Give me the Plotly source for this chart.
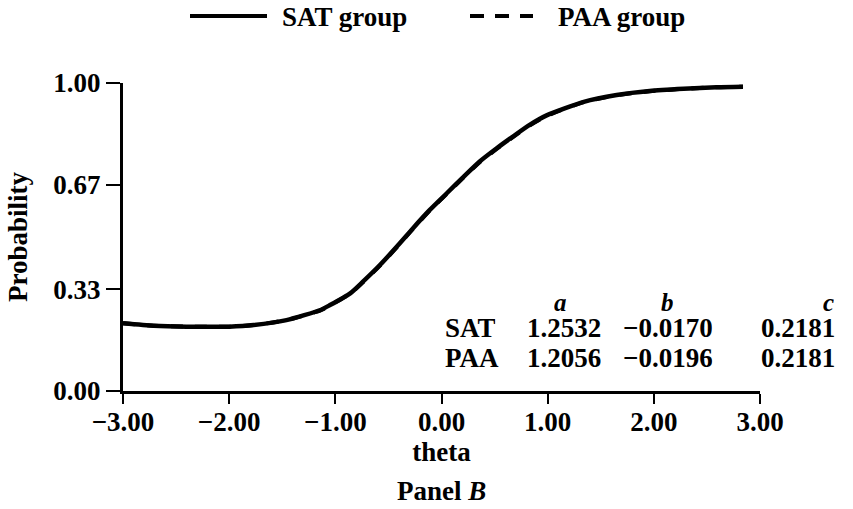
import plotly.graph_objects as go

# Item characteristic curves (probability of a correct response vs. theta)
theta_sat = [-3.00, -2.71, -2.40, -2.00, -1.77, -1.46, -1.14, -1.05, -0.86, -0.74,
             -0.58, -0.42, -0.27, -0.11, 0.05, 0.21, 0.36, 0.52, 0.68, 0.83,
             0.99, 1.34, 1.65, 1.96, 2.28, 2.59, 2.84]
prob_sat = [0.220, 0.212, 0.209, 0.209, 0.214, 0.230, 0.263, 0.279, 0.317, 0.355,
            0.409, 0.469, 0.528, 0.588, 0.642, 0.696, 0.745, 0.788, 0.828, 0.864,
            0.895, 0.939, 0.961, 0.974, 0.981, 0.986, 0.988]
theta_paa = [-3.00, -2.71, -2.40, -2.00, -1.77, -1.46, -1.14, -1.05, -0.86, -0.74,
             -0.58, -0.42, -0.27, -0.11, 0.05, 0.21, 0.36, 0.52, 0.68, 0.83,
             0.99, 1.34, 1.65, 1.96, 2.28, 2.59, 2.84]
prob_paa = [0.220, 0.212, 0.209, 0.209, 0.214, 0.230, 0.262, 0.278, 0.316, 0.353,
            0.407, 0.467, 0.526, 0.586, 0.640, 0.694, 0.743, 0.786, 0.826, 0.862,
            0.893, 0.938, 0.960, 0.973, 0.981, 0.986, 0.988]

# Item parameter table
param_headers = ["a", "b", "c"]
groups = ["SAT", "PAA"]
params = [["1.2532", "\u22120.0170", "0.2181"],
          ["1.2056", "\u22120.0196", "0.2181"]]

y_tickvals = [0.0, 0.33, 0.67, 1.0]
y_ticktext = ["0.00", "0.33", "0.67", "1.00"]
x_tickvals = [-3, -2, -1, 0, 1, 2, 3]
x_ticktext = ["\u22123.00", "\u22122.00", "\u22121.00", "0.00", "1.00", "2.00", "3.00"]

FONT = "Liberation Serif"
FS = 27
W, H = 853, 509
ML, MR, MT, MB = 123, 93, 83, 118
PW, PH = W - ML - MR, H - MT - MB


def px_x(px):
    return (px - ML) / PW


def px_y(py):
    return (H - MB - py) / PH


def txt(s):
    return f"<b>{s}</b>"


fig = go.Figure()
fig.add_trace(go.Scatter(
    x=theta_paa, y=prob_paa, mode="lines", name="PAA group", showlegend=False,
    line=dict(color="black", width=4, dash="dash", shape="spline", smoothing=0.6),
))
fig.add_trace(go.Scatter(
    x=theta_sat, y=prob_sat, mode="lines", name="SAT group", showlegend=False,
    line=dict(color="black", width=4.5, shape="spline", smoothing=0.6),
))

font = dict(family=FONT, size=FS, color="black")
annotations = []
shapes = []

# Key: solid = SAT group, dashed = PAA group
legend_items = [("SAT group", "solid", 190, 267, 280),
                ("PAA group", "14px,11px", 470, 533, 556)]
for label, dash, x0, x1, xt in legend_items:
    shapes.append(dict(
        type="line", xref="paper", yref="paper",
        x0=px_x(x0), x1=px_x(x1), y0=px_y(16), y1=px_y(16),
        line=dict(color="black", width=4, dash=dash),
    ))
    annotations.append(dict(
        x=px_x(xt), y=px_y(17), xref="paper", yref="paper", text=txt(label),
        showarrow=False, xanchor="left", yanchor="middle", font=font,
    ))

header_x = [560, 667, 828]
for h, xc in zip(param_headers, header_x):
    annotations.append(dict(
        x=px_x(xc), y=px_y(302), xref="paper", yref="paper",
        text=f"<b><i>{h}</i></b>", showarrow=False, xanchor="center", yanchor="middle",
        font=dict(family=FONT, size=25, color="black"), height=20,
    ))
row_y = [328, 358]
col_right = [603, 715, 837]
for g, vals, yc in zip(groups, params, row_y):
    annotations.append(dict(
        x=px_x(443), y=px_y(yc), xref="paper", yref="paper",
        text=txt(g), showarrow=False, xanchor="left", yanchor="middle",
        font=font, height=24,
    ))
    for v, xr in zip(vals, col_right):
        annotations.append(dict(
            x=px_x(xr), y=px_y(yc), xref="paper", yref="paper",
            text=txt(v), showarrow=False, xanchor="right", yanchor="middle",
            font=font, height=24,
        ))
annotations.append(dict(
    x=px_x(442), y=px_y(491), xref="paper", yref="paper",
    text="<b>Panel <i>B</i></b>", showarrow=False, xanchor="center", yanchor="middle",
    font=font,
))

fig.update_layout(
    width=W, height=H,
    margin=dict(l=ML, r=MR, t=MT, b=MB, pad=0, autoexpand=False),
    paper_bgcolor="white", plot_bgcolor="white",
    font=font,
    showlegend=False,
    annotations=annotations,
    shapes=shapes,
)
fig.update_xaxes(
    range=[-3, 3], tickvals=x_tickvals, ticktext=[txt(t) for t in x_ticktext],
    showgrid=False, zeroline=False, showline=True, linecolor="black", linewidth=3,
    ticks="outside", ticklen=10, tickwidth=2, tickcolor="black",
    ticklabelstandoff=-5,
    tickfont=font,
    title=dict(text=txt("theta"), font=font, standoff=0),
)
fig.update_yaxes(
    range=[0, 1], tickvals=y_tickvals, ticktext=[txt(t) for t in y_ticktext],
    showgrid=False, zeroline=False, showline=True, linecolor="black", linewidth=3,
    ticks="outside", ticklen=14, tickwidth=2, tickcolor="black",
    tickfont=font,
    title=dict(text=txt("Probability"), font=font, standoff=18),
)

fig.write_html("out.html")
